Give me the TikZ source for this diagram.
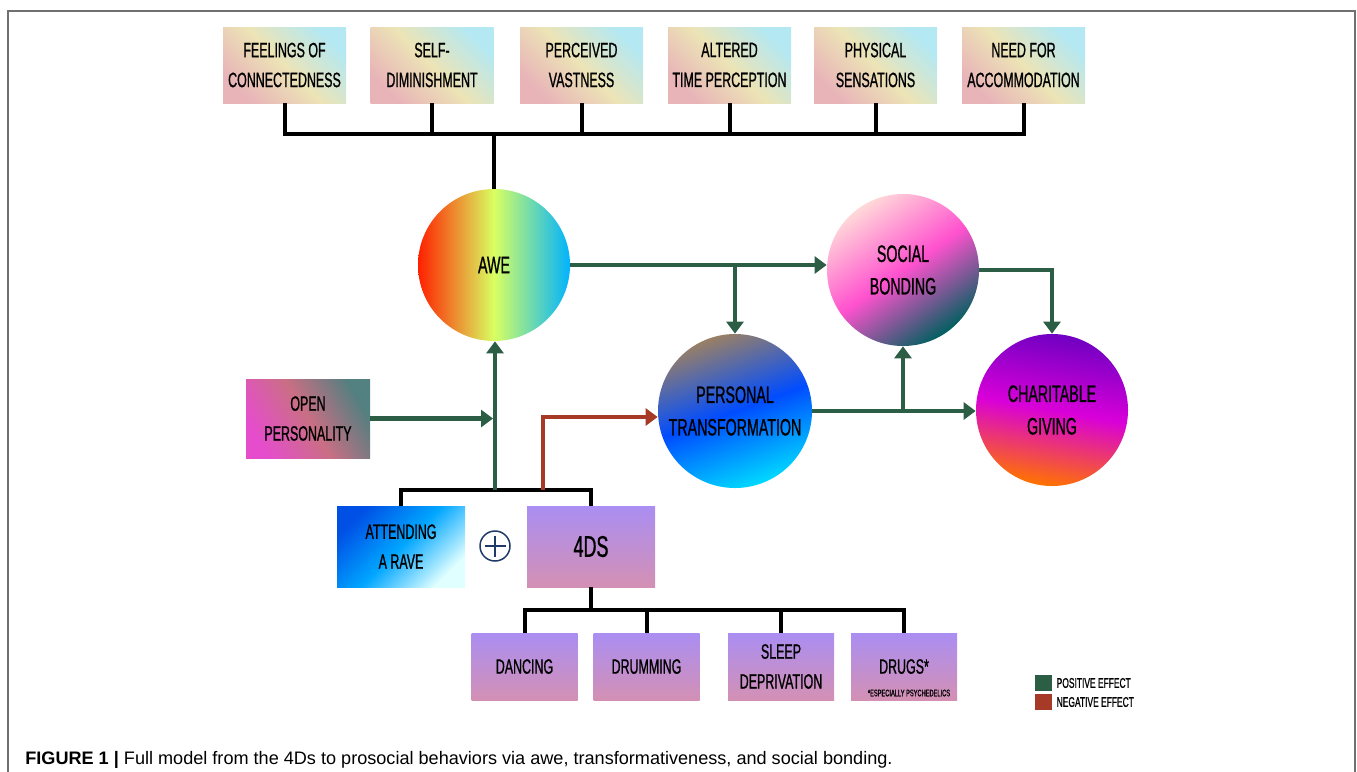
\documentclass[tikz,border=0pt]{standalone}
\usepackage{fontspec}
\setmainfont{Liberation Sans}
\newfontfamily\posterfont{Liberation Sans}[FakeStretch=0.6, FakeBold=0.9]
\usepackage{tikz}
\usetikzlibrary{arrows.meta, positioning, calc}
\definecolor{posgreen}{HTML}{2B5E45}
\definecolor{negred}{HTML}{A63A26}
\definecolor{framegrey}{HTML}{707070}
\definecolor{plusblue}{HTML}{1F3A68}
\definecolor{palepink}{HTML}{E8B4B8}
\definecolor{paleyellow}{HTML}{ECE4B6}
\definecolor{palecyan}{HTML}{B4E8F2}
\definecolor{lilactop}{HTML}{AA8EF2}
\definecolor{lilacbottom}{HTML}{D490B4}
\tikzset{
x=0.2mm, y=-0.2mm,
>={Triangle[length=2.4mm,width=3.4mm]},
wire/.style={line width=0.8mm, black},
posarrow/.style={line width=0.9mm, draw=posgreen, ->},
negarrow/.style={line width=0.9mm, draw=negred, ->},
tile/.style={%
    rectangle,
    inner sep=0pt,
    align=center,
    minimum width=24.6mm,
    minimum height=15.2mm,
    font=\posterfont\fontsize{11.8}{17}\selectfont
},
sky tile/.style={%
    tile,
    bottom color=palepink, top color=palecyan, middle color=paleyellow,
    shading angle=-45
},
lilac tile/.style={%
    tile,
    minimum width=21.2mm, minimum height=13.4mm,
    top color=lilactop, bottom color=lilacbottom,
},
bubble/.style={%
    circle,
    inner sep=0pt,
    minimum size=30.4mm,
    align=center,
    font=\posterfont\fontsize{13.5}{18.5}\selectfont
},
swatch/.style={rectangle, inner sep=0pt, minimum width=3.4mm, minimum height=3.2mm},
keytext/.style={inner sep=0pt, font=\posterfont\fontsize{8}{10}\selectfont},
}

\begin{document}
\begin{tikzpicture}
	\useasboundingbox (0,0) rectangle (1357,771);
	\draw[framegrey, line width=0.4mm] (8,11) rectangle (1355,800);

	% awe components
	\node[sky tile] (connect) at (284.5,65) {FEELINGS OF\\CONNECTEDNESS};
	\node[sky tile] (selfdim) at (432,65) {SELF-\\DIMINISHMENT};
	\node[sky tile] (vast) at (581.5,65) {PERCEIVED\\VASTNESS};
	\node[sky tile] (timeperc) at (729.5,65) {ALTERED\\TIME PERCEPTION};
	\node[sky tile] (physical) at (875.5,65) {PHYSICAL\\SENSATIONS};
	\node[sky tile] (accom) at (1023.5,65) {NEED FOR\\ACCOMMODATION};
	\coordinate (topbus) at (494,134);

	% outcomes
	\node[bubble, left color=red!75!orange, right color=cyan!70!blue, middle color=yellow!55!white!85!green] (awe) at (494,265) {AWE};
	\node[bubble, top color=pink!60!white, bottom color=teal!75!black, middle color=magenta!60!pink!90!orange, shading angle=35] (social) at (903,270) {SOCIAL\\BONDING};
	\node[bubble, minimum size=30.8mm, top color=brown!40!gray, bottom color=cyan!85!blue, middle color=blue!70!cyan, shading angle=20] (transform) at (735,411) {PERSONAL\\TRANSFORMATION};
	\node[bubble, top color=violet!60!blue!80!magenta, bottom color=orange!90!red, middle color=magenta!70!violet, shading angle=-10] (charity) at (1052,410) {CHARITABLE\\GIVING};

	% predictors
	\node[tile, minimum width=24.8mm, minimum height=15.8mm, bottom color=magenta!55!pink!90!black, top color=teal!35!gray, middle color=purple!45!pink!75!gray, shading angle=-60] (open) at (308,418.5) {OPEN\\PERSONALITY};
	\node[tile, minimum width=25.6mm, minimum height=16.2mm, top color=blue!65!cyan!90!black, bottom color=cyan!12!white, middle color=cyan!65!blue, shading angle=45] (rave) at (401,546.5) {ATTENDING\\A RAVE};
	\node[lilac tile, minimum width=25.6mm, minimum height=16.2mm, font=\posterfont\fontsize{17}{20}\selectfont] (fourd) at (591,546.5) {4DS};
	\node[circle, draw=plusblue, line width=0.3mm, minimum size=6mm, inner sep=0pt,
		path picture={\draw[plusblue, line width=0.25mm]
			([xshift=0.9mm]path picture bounding box.west) -- ([xshift=-0.9mm]path picture bounding box.east)
			([yshift=-0.9mm]path picture bounding box.north) -- ([yshift=0.9mm]path picture bounding box.south);}] (plus) at (495,546) {};
	\coordinate (rise) at (495,490);
	\coordinate (redfoot) at (543,490);
	\coordinate (redbend) at (543,417);

	% the 4Ds
	\node[lilac tile] (dancing) at (524.5,666.5) {DANCING};
	\node[lilac tile] (drumming) at (646.5,666.5) {DRUMMING};
	\node[lilac tile] (sleep) at (781,666.5) {SLEEP\\DEPRIVATION};
	\node[lilac tile] (drugs) at (904,666.5) {DRUGS*};
	\node[inner sep=0pt, font=\posterfont\fontsize{5.4}{6}\selectfont] (drugsnote) at (909,693) {*ESPECIALLY PSYCHEDELICS};
	\coordinate (lowbus) at (591,610);

	% key
	\node[swatch, fill=posgreen] (poskey) at (1043.5,683) {};
	\node[swatch, fill=negred] (negkey) at (1043.5,702) {};
	\node[keytext, anchor=west, right=0.8mm of poskey] (poslabel) {POSITIVE EFFECT};
	\node[keytext, anchor=west, right=0.8mm of negkey] (neglabel) {NEGATIVE EFFECT};

	\node[anchor=base west, inner sep=0pt, font=\fontsize{10.3}{12}\selectfont] (caption) at (25,764)
		{\textbf{FIGURE 1 |} Full model from the 4Ds to prosocial behaviors via awe, transformativeness, and social bonding.};

	% black brackets
	\draw[wire] (connect.south) |- (accom.south |- topbus) -- (accom.south);
	\foreach \tilename in {selfdim, vast, timeperc, physical}
		\draw[wire] (\tilename.south) -- (\tilename.south |- topbus);
	\draw[wire] (topbus) -- (awe.north);
	\draw[wire] (rave.north) |- (fourd.north |- rise) -- (fourd.north);
	\draw[wire] (fourd.south) -- (lowbus);
	\draw[wire] (dancing.north) |- (drugs.north |- lowbus) -- (drugs.north);
	\foreach \tilename in {drumming, sleep}
		\draw[wire] (\tilename.north) -- (\tilename.north |- lowbus);

	% effects
	\draw[posarrow] (rise) -- (rise |- awe.south);
	\draw[posarrow] (open.east) -- ($(open.east -| rise)+(-2,0)$);
	\draw[posarrow] (awe.east) -- (awe.east -| social.west);
	\draw[posarrow] (awe.east -| transform.north) -- (transform.north);
	\draw[posarrow] (social.east) -| (charity.north);
	\draw[posarrow] (transform.east) -- (transform.east -| charity.west);
	\draw[posarrow] (transform.east -| social.south) -- (social.south);
	\draw[negarrow] (redfoot) -- (redbend) -- (redbend -| transform.west);
\end{tikzpicture}
\end{document}
